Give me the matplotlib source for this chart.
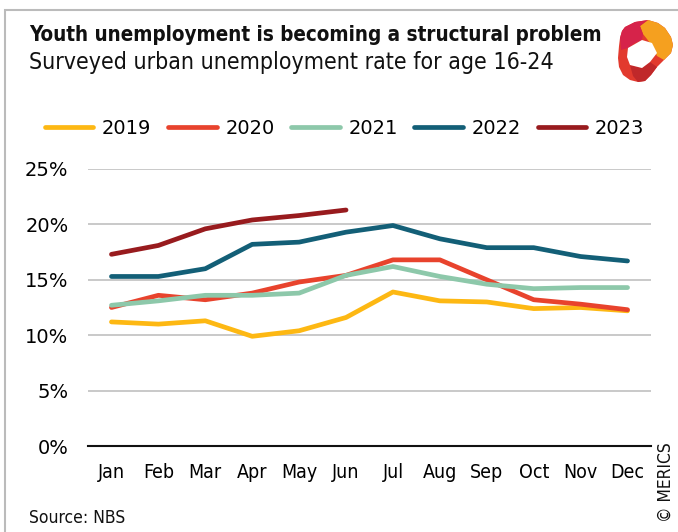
import matplotlib
matplotlib.use("Agg")
import matplotlib.pyplot as plt
from matplotlib import font_manager as fm
from matplotlib.patches import Polygon, Rectangle

months = ["Jan", "Feb", "Mar", "Apr", "May", "Jun",
          "Jul", "Aug", "Sep", "Oct", "Nov", "Dec"]
years = ["2019", "2020", "2021", "2022", "2023"]

rate_2019 = [11.2, 11.0, 11.3, 9.9, 10.4, 11.6, 13.9, 13.1, 13.0, 12.4, 12.5, 12.2]
rate_2020 = [12.5, 13.6, 13.2, 13.8, 14.8, 15.4, 16.8, 16.8, 15.0, 13.2, 12.8, 12.3]
rate_2021 = [12.7, 13.1, 13.6, 13.6, 13.8, 15.4, 16.2, 15.3, 14.6, 14.2, 14.3, 14.3]
rate_2022 = [15.3, 15.3, 16.0, 18.2, 18.4, 19.3, 19.9, 18.7, 17.9, 17.9, 17.1, 16.7]
rate_2023 = [17.3, 18.1, 19.6, 20.4, 20.8, 21.3]

colors = ["#FDB813", "#E8432D", "#8DC8AA", "#135F77", "#981B1E"]
series = [rate_2019, rate_2020, rate_2021, rate_2022, rate_2023]


def narrow_font(bold=False):
    # look for any condensed / narrow face on the system
    want = 700 if bold else 400
    best = None
    for f in fm.fontManager.ttflist:
        is_narrow = ("Condensed" in f.name or "Narrow" in f.name
                     or "condensed" in str(f.stretch) or "Condensed" in f.fname
                     or "Narrow" in f.fname)
        if not is_narrow or f.style != "normal":
            continue
        w = f.weight if isinstance(f.weight, int) else 400
        score = abs(w - want)
        if best is None or score < best[0]:
            best = (score, f.fname)
    if best is None:
        return fm.FontProperties(family="Roboto", weight="bold" if bold else "normal")
    return fm.FontProperties(fname=best[1])


reg = narrow_font()
bold = narrow_font(bold=True)

W, H = 678, 532
fig = plt.figure(figsize=(W / 100, H / 100), dpi=100)


def fx(px):
    return px / W


def fy(py):
    return 1 - py / H


# grey frame round the whole graphic
fig.patches.append(Rectangle((fx(5), fy(H + 10)), 1, fy(10) - fy(H + 10),
                             transform=fig.transFigure, fill=False,
                             edgecolor="#BBBBBB", linewidth=1.5))

fig.text(fx(29), fy(35), "Youth unemployment is becoming a structural problem",
         fontproperties=bold, fontsize=14.8, va="center", color="#111111")
fig.text(fx(29), fy(63), "Surveyed urban unemployment rate for age 16-24",
         fontproperties=reg, fontsize=16.6, va="center", color="#111111")

ax = fig.add_axes([fx(88), fy(446), fx(651) - fx(88), fy(169) - fy(446)])
x = list(range(len(months)))
handles = []
for yr, vals, c in zip(years, series, colors):
    h, = ax.plot(x[:len(vals)], vals, color=c, linewidth=3.4,
                 solid_capstyle="round", solid_joinstyle="round", label=yr)
    handles.append(h)

ax.set_xlim(-0.5, 11.5)
ax.set_ylim(0, 25)
ax.set_yticks([0, 5, 10, 15, 20, 25])
ax.set_yticklabels([f"{v}%" for v in [0, 5, 10, 15, 20, 25]], fontsize=14)
ax.set_xticks(x)
ax.set_xticklabels(months, fontproperties=reg, fontsize=14)
ax.tick_params(length=0)
ax.tick_params(axis="y", pad=14)
ax.tick_params(axis="x", pad=12)
ax.grid(axis="y", color="#C0C0C0", linewidth=1.2)
ax.set_axisbelow(True)
for s in ["top", "right", "left"]:
    ax.spines[s].set_visible(False)
ax.spines["bottom"].set_color("#111111")
ax.spines["bottom"].set_linewidth(1.5)

leg = fig.legend(handles=handles, loc="center left", bbox_to_anchor=(fx(35), fy(128)),
                 ncol=5, frameon=False, fontsize=14, handlelength=2.5, borderpad=0,
                 handletextpad=0.45, columnspacing=0.85)
for line in leg.get_lines():
    line.set_linewidth(3.4)

fig.text(fx(29), fy(518), "Source: NBS", fontproperties=reg, fontsize=12.5,
         va="center", color="#111111")
fig.text(fx(666), fy(482), "© MERICS", fontproperties=reg, fontsize=12.5,
         rotation=90, ha="center", va="center", color="#111111")

# MERICS logo: a twisted ring in red/orange
lax = fig.add_axes([fx(615), fy(85), fx(676) - fx(615), fy(15) - fy(85)])
lax.set_xlim(615, 676)
lax.set_ylim(85, 15)
lax.axis("off")
outer = [(625, 27), (635, 22), (648, 20), (658, 23), (665, 28), (671, 37), (673, 45),
         (671, 53), (664, 60), (657, 67), (651, 75), (645, 81), (638, 82), (630, 80),
         (623, 75), (619, 67), (618, 58), (619, 46), (620, 38), (622, 31)]
lax.add_patch(Polygon(outer, closed=True, facecolor="#E23A2E", edgecolor="none"))
lax.add_patch(Polygon([(648, 20), (658, 23), (665, 28), (671, 37), (673, 45), (671, 53),
                       (664, 60), (657, 56), (652, 46), (647, 39), (643, 34), (640, 26)],
                      closed=True, facecolor="#F5A01F", edgecolor="none"))
lax.add_patch(Polygon([(625, 27), (635, 22), (648, 20), (640, 26), (643, 34), (642, 40),
                       (635, 43), (628, 48), (621, 50), (620, 38), (622, 31)],
                      closed=True, facecolor="#D6234A", edgecolor="none"))
lax.add_patch(Polygon([(630, 65), (642, 68), (650, 62), (657, 67), (651, 75), (645, 81),
                       (638, 82), (633, 76)],
                      closed=True, facecolor="#C0282A", edgecolor="none"))
inner = [(628, 48), (642, 40), (652, 43), (657, 53), (650, 62), (642, 68),
         (630, 65), (627, 57)]
lax.add_patch(Polygon(inner, closed=True, facecolor="white", edgecolor="none"))

fig.savefig("out.png", dpi=100)
